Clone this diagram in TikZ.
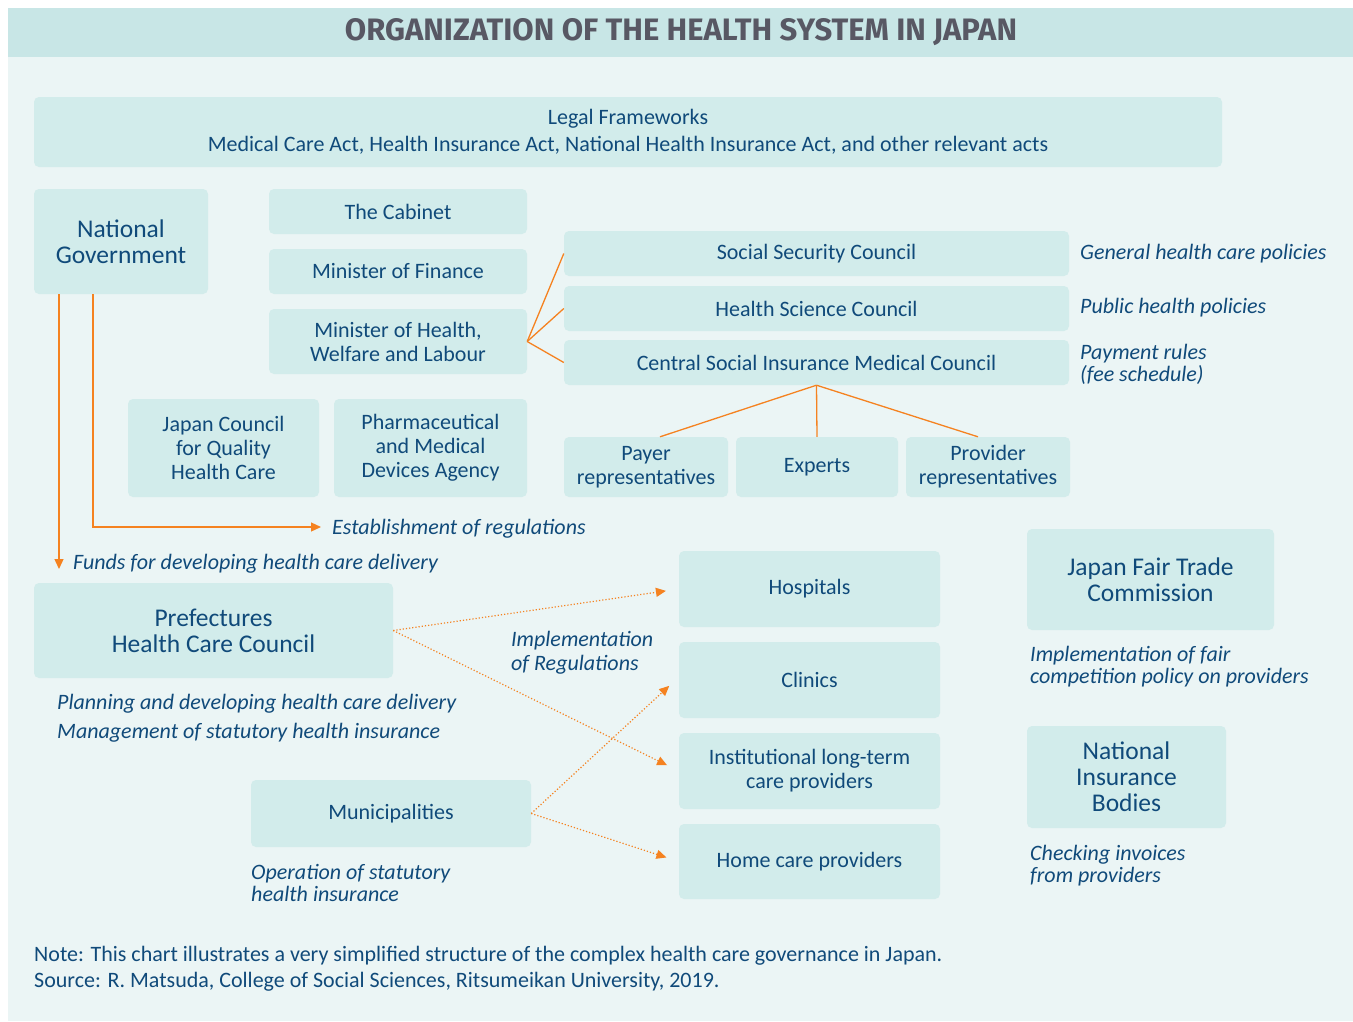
\documentclass[tikz,border=0pt]{standalone}
\usepackage{fontspec}
\setmainfont{Carlito}
\newfontfamily\titlefont{Fira Sans}
\usepackage{tikz}
\usetikzlibrary{arrows.meta}

\definecolor{bandfill}{RGB}{200,230,230}
\definecolor{pagefill}{RGB}{235,245,245}
\definecolor{boxfill}{RGB}{210,236,235}
\definecolor{txtblue}{RGB}{16,74,122}
\definecolor{titlegrey}{RGB}{88,88,100}
\definecolor{linkorange}{RGB}{245,130,32}

\begin{document}
\begin{tikzpicture}[x=1pt,y=-1pt,
    box/.style={rectangle, rounded corners=5pt, fill=boxfill, text=txtblue,
        align=center, inner sep=0pt, font=\fontsize{22}{24}\selectfont},
    bigbox/.style={box, font=\fontsize{25.5}{26}\selectfont},
    note/.style={anchor=west, inner sep=0pt, text=txtblue, align=left,
        font=\fontsize{22}{22}\selectfont\itshape},
    link/.style={draw=linkorange, line width=1.3pt},
    arr/.style={link, -{Triangle[length=10pt,width=9pt]}},
    dotarr/.style={draw=linkorange, line width=1.2pt, dotted,
        -{Triangle[length=10pt,width=9pt]}, shorten >=13pt}]
    \useasboundingbox (0,0) rectangle (1353,1021);
    \fill[white] (0,0) rectangle (1353,1021);
    \fill[pagefill] (8,57) rectangle (1353,1021);
    \fill[bandfill] (8,8) rectangle (1353,57);
    \node[text=titlegrey, font=\fontsize{31}{32}\titlefont\bfseries] (title) at (681,32) {ORGANIZATION OF THE HEALTH SYSTEM IN JAPAN};

    \node[box, minimum width=1188pt, minimum height=70pt] (legal) at (628,132)
        {Legal Frameworks\\[3pt]Medical Care Act, Health Insurance Act, National Health Insurance Act, and other relevant acts};

    \node[bigbox, minimum width=174pt, minimum height=105pt] (natgov) at (121,241.5) {National\\Government};
    \node[box, minimum width=258pt, minimum height=45pt] (cabinet) at (398,211.5) {The Cabinet};
    \node[box, minimum width=258pt, minimum height=45pt] (finance) at (398,271.5) {Minister of Finance};
    \node[box, minimum width=258pt, minimum height=65pt] (mhlw) at (398,341.5) {Minister of Health,\\Welfare and Labour};
    \node[box, minimum width=191pt, minimum height=98pt] (jcqhc) at (223.5,448) {Japan Council\\for Quality\\Health Care};
    \node[box, minimum width=193pt, minimum height=98pt] (pmda) at (430.5,448) {Pharmaceutical\\and Medical\\Devices Agency};

    \node[box, minimum width=505pt, minimum height=45pt] (ssc) at (816.5,253.5) {Social Security Council};
    \node[box, minimum width=505pt, minimum height=45pt] (hsc) at (816.5,308.5) {Health Science Council};
    \node[box, minimum width=505pt, minimum height=45pt] (csimc) at (816.5,362.5) {Central Social Insurance Medical Council};
    \node[box, minimum width=164pt, minimum height=60pt] (payer) at (646,467) {Payer\\representatives};
    \node[box, minimum width=162pt, minimum height=60pt] (experts) at (817,467) {Experts};
    \node[box, minimum width=164pt, minimum height=60pt] (provider) at (988,467) {Provider\\representatives};

    \node[note] (genpol) at (1080,254) {General health care policies};
    \node[note] (pubpol) at (1080,308) {Public health policies};
    \node[note] (payrules) at (1080,364) {Payment rules\\(fee schedule)};

    \draw[link] (mhlw.east) -- (ssc.west);
    \draw[link] (mhlw.east) -- (hsc.west);
    \draw[link] (mhlw.east) -- (csimc.west);
    \draw[link] (csimc.south) -- ([xshift=14pt]payer.north);
    \draw[link] (csimc.south) -- (experts.north);
    \draw[link] (csimc.south) -- ([xshift=-10pt]provider.north);

    \node[note] (estab) at (332,529) {Establishment of regulations};
    \node[note] (funds) at (73,564) {Funds for developing health care delivery};
    \coordinate (fundsend) at (59,569);
    \coordinate (estabend) at (321,527);
    \draw[arr] (natgov.south -| fundsend) -- (fundsend);
    \draw[arr] ([xshift=-28pt]natgov.south) |- (estabend);

    \node[bigbox, minimum width=359pt, minimum height=95pt] (pref) at (213.5,630.5) {Prefectures\\Health Care Council};
    \node[note] (planning) at (57,704) {Planning and developing health care delivery};
    \node[note] (mgmt) at (57,733) {Management of statutory health insurance};

    \node[box, minimum width=280pt, minimum height=67pt] (muni) at (391,813.5) {Municipalities};
    \node[note] (operation) at (251,883) {Operation of statutory\\health insurance};

    \node[box, minimum width=261pt, minimum height=76pt] (hosp) at (809.5,589) {Hospitals};
    \node[box, minimum width=261pt, minimum height=76pt] (clinics) at (809.5,680) {Clinics};
    \node[box, minimum width=261pt, minimum height=76pt] (inst) at (809.5,771) {Institutional long-term\\care providers};
    \node[box, minimum width=261pt, minimum height=75pt] (home) at (809.5,861.5) {Home care providers};
    \node[note, font=\fontsize{22}{24}\selectfont\itshape] (implreg) at (511,653) {Implementation\\of Regulations};

    \draw[dotarr] (pref.east) -- (hosp.west);
    \draw[dotarr] (pref.east) -- (inst.west);
    \draw[dotarr] (muni.east) -- ([yshift=3pt]clinics.west);
    \draw[dotarr] (muni.east) -- (home.west);

    \node[bigbox, minimum width=247pt, minimum height=101pt] (jftc) at (1150.5,579.5) {Japan Fair Trade\\Commission};
    \node[note] (fairlbl) at (1030,667) {Implementation of fair\\competition policy on providers};
    \node[bigbox, minimum width=199pt, minimum height=102pt] (nib) at (1126.5,777) {National\\Insurance\\Bodies};
    \node[note] (checklbl) at (1030,866) {Checking invoices\\from providers};

    \node[note, font=\fontsize{22}{26}\selectfont] (source) at (34,969)
        {Note: This chart illustrates a very simplified structure of the complex health care governance in Japan.\\Source: R. Matsuda, College of Social Sciences, Ritsumeikan University, 2019.};
\end{tikzpicture}
\end{document}
